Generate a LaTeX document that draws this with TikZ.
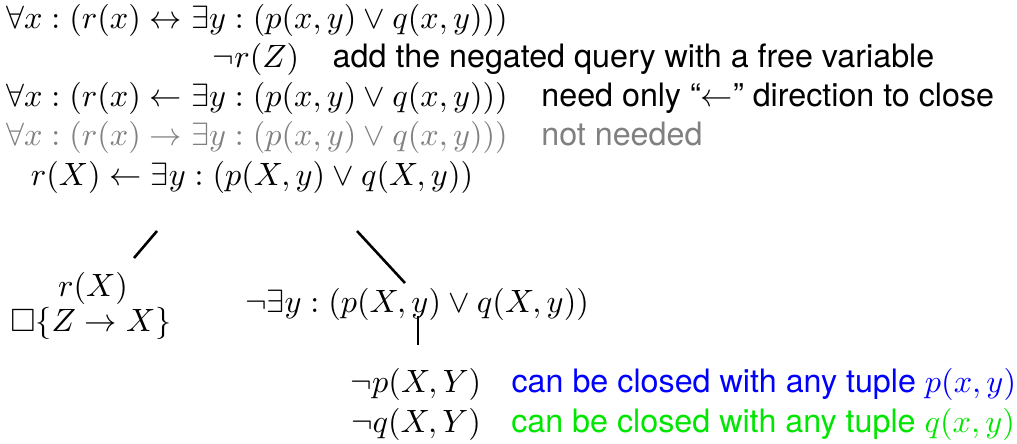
\documentclass[tikz,border=0pt]{standalone}
\usepackage{amsmath,amssymb}
\usepackage[no-math]{fontspec}
\setsansfont{TeX Gyre Heros}
\usepackage{xcolor}
\usepackage{tikz}
\usetikzlibrary{positioning}
\definecolor{cinzatexto}{RGB}{128,128,128}
\definecolor{azulnota}{RGB}{0,0,255}
\definecolor{verdenota}{RGB}{0,230,0}
\tikzset{
  formula/.style={inner sep=0pt,anchor=base},
  nota/.style={inner sep=0pt,anchor=base west,font=\sffamily},
  ramo/.style={thick,line cap=butt}
}

\begin{document}
\begin{tikzpicture}[x=0.31pt,y=-0.31pt]
\useasboundingbox (0,0) rectangle (1017,443);
% conjunto inicial
\node[formula] (equiv) at (257,28) {$\forall x: (r(x) \leftrightarrow \exists y: (p(x,y) \lor q(x,y)))$};
\node[formula] (negrz) at (256,67) {$\neg r(Z)$};
\node[nota] (notaneg) at ([xshift=1em]negrz.base east) {add the negated query with a free variable};
\node[formula] (esq) at (257,106) {$\forall x: (r(x) \leftarrow \exists y: (p(x,y) \lor q(x,y)))$};
\node[nota] (notaesq) at ([xshift=1em]esq.base east) {need only ``$\leftarrow$'' direction to close};
\node[formula,text=cinzatexto] (dir) at (257,145) {$\forall x: (r(x) \rightarrow \exists y: (p(x,y) \lor q(x,y)))$};
\node[nota,text=cinzatexto] (notadir) at ([xshift=1em]dir.base east) {not needed};
% arvore
\node[formula] (raiz) at (252,185) {$r(X) \leftarrow \exists y: (p(X,y) \lor q(X,y))$};
\node[formula] (rx) at (93,296) {$r(X)$};
\node[formula] (fecha) at (91,331) {$\Box\{Z \rightarrow X\}$};
\node[formula] (negex) at (417,312) {$\neg\exists y: (p(X,y) \lor q(X,y))$};
\node[formula] (negp) at (416,392) {$\neg p(X,Y)$};
\node[formula] (negq) at (416,432) {$\neg q(X,Y)$};
\node[nota,text=azulnota] (notap) at ([xshift=.9em]negp.base east) {can be closed with any tuple $p(x,y)$};
\node[nota,text=verdenota] (notaq) at ([xshift=.9em]negq.base east) {can be closed with any tuple $q(x,y)$};
% ramos
\coordinate (r1a) at (157,231);
\coordinate (r1b) at (134,258);
\coordinate (r2a) at (357,231);
\coordinate (r2b) at (405,283);
\coordinate (r3a) at (418,316);
\coordinate (r3b) at (418,345);
\draw[ramo] (r1a) -- (r1b);
\draw[ramo] (r2a) -- (r2b);
\draw[ramo] (r3a) -- (r3b);
\end{tikzpicture}
\end{document}
